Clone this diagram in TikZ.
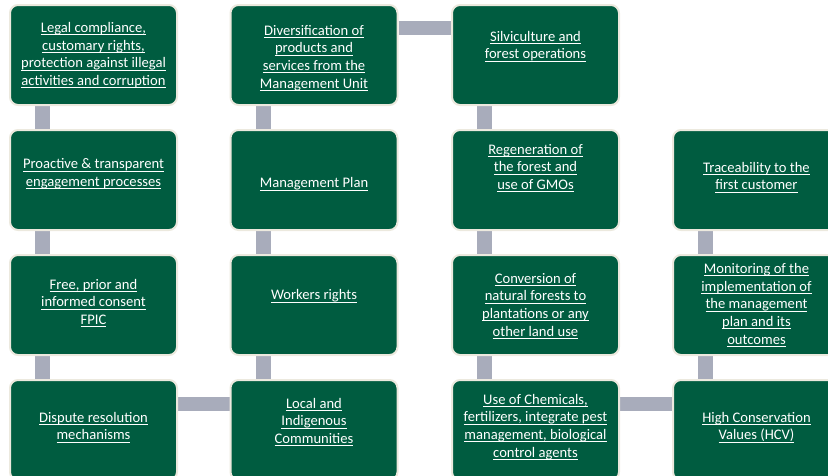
\documentclass[tikz,border=0pt]{standalone}
\usepackage{fontspec}
\setmainfont{Carlito}
\usetikzlibrary{backgrounds}
\definecolor{boxgreen}{RGB}{0,92,64}
\definecolor{boxedge}{RGB}{236,233,222}
\definecolor{bargrey}{RGB}{168,172,187}
\newcommand\ulx[1]{\setbox0\hbox{#1}\rlap{\color{white}\rule[-2.4pt]{\wd0}{0.6pt}}\box0}
\tikzset{
  gbox/.style={rectangle, rounded corners=8pt, fill=boxgreen, draw=boxedge, line width=2pt,
    minimum width=167pt, minimum height=100pt, inner sep=0pt},
  gtext/.style={text=white, align=center, font=\fontsize{14.6}{17.7}\selectfont, inner sep=0pt},
  vbar/.style={draw=bargrey, line width=15pt},
  hbar/.style={draw=bargrey, line width=14pt},
}
\begin{document}
\begin{tikzpicture}[x=1pt,y=-1pt]
\useasboundingbox (0,0) rectangle (828,475);
% boxes
\node[gbox] (a1) at (93.5,55) {};
\node[gbox] (b1) at (314,55) {};
\node[gbox] (c1) at (535.5,55) {};
\node[gbox] (a2) at (93.5,180) {};
\node[gbox] (b2) at (314,180) {};
\node[gbox] (c2) at (535.5,180) {};
\node[gbox] (d2) at (756.5,180) {};
\node[gbox] (a3) at (93.5,305) {};
\node[gbox] (b3) at (314,305) {};
\node[gbox] (c3) at (535.5,305) {};
\node[gbox] (d3) at (756.5,305) {};
\node[gbox] (a4) at (93.5,430) {};
\node[gbox] (b4) at (314,430) {};
\node[gbox] (c4) at (535.5,430) {};
\node[gbox] (d4) at (756.5,430) {};
% texts
\node[gtext] (ta1) at (93.5,55) {\ulx{Legal compliance,}\\\ulx{customary rights,}\\\ulx{protection against illegal}\\\ulx{activities and corruption}};
\node[gtext] (tb1) at (314,58) {\ulx{Diversification of}\\\ulx{products and}\\\ulx{services from the}\\\ulx{Management Unit}};
\node[gtext] (tc1) at (535.5,46) {\ulx{Silviculture and}\\\ulx{forest operations}};
\node[gtext] (ta2) at (93.5,174) {\ulx{Proactive \& transparent}\\\ulx{engagement processes}};
\node[gtext] (tb2) at (314,184) {\ulx{Management Plan}};
\node[gtext] (tc2) at (535.5,168) {\ulx{Regeneration of}\\\ulx{the forest and}\\\ulx{use of GMOs}};
\node[gtext] (td2) at (756.5,177) {\ulx{Traceability to the}\\\ulx{first customer}};
\node[gtext] (ta3) at (93.5,303) {\ulx{Free, prior and}\\\ulx{informed consent}\\\ulx{FPIC}};
\node[gtext] (tb3) at (314,296) {\ulx{Workers rights}};
\node[gtext] (tc3) at (535.5,306) {\ulx{Conversion of}\\\ulx{natural forests to}\\\ulx{plantations or any}\\\ulx{other land use}};
\node[gtext] (td3) at (756.5,305) {\ulx{Monitoring of the}\\\ulx{implementation of}\\\ulx{the management}\\\ulx{plan and its}\\\ulx{outcomes}};
\node[gtext] (ta4) at (93.5,427) {\ulx{Dispute resolution}\\\ulx{mechanisms}};
\node[gtext] (tb4) at (314,422) {\ulx{Local and}\\\ulx{Indigenous}\\\ulx{Communities}};
\node[gtext] (tc4) at (535.5,427) {\ulx{Use of Chemicals,}\\\ulx{fertilizers, integrate pest}\\\ulx{management, biological}\\\ulx{control agents}};
\node[gtext] (td4) at (756.5,427) {\ulx{High Conservation}\\\ulx{Values (HCV)}};
% connectors
\begin{scope}[on background layer]
\foreach \u/\v in {a1/a2,a2/a3,a3/a4,b1/b2,b2/b3,b3/b4,c1/c2,c2/c3,c3/c4,d2/d3,d3/d4}{
  \draw[vbar] ([xshift=33.5pt]\u.south west) -- ([xshift=33.5pt]\v.north west);
}
\draw[hbar] ([yshift=-24pt]b1.north east) -- ([yshift=-24pt]c1.north west);
\draw[hbar] ([yshift=-24.5pt]a4.north east) -- ([yshift=-24.5pt]b4.north west);
\draw[hbar] ([yshift=-24.5pt]c4.north east) -- ([yshift=-24.5pt]d4.north west);
\end{scope}
\end{tikzpicture}
\end{document}
